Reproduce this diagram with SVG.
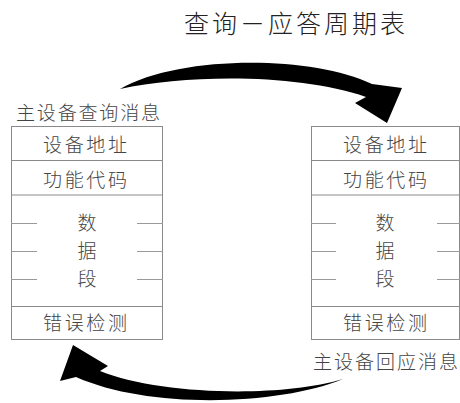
<svg xmlns="http://www.w3.org/2000/svg" width="460" height="403" viewBox="0 0 460 403">
<style>
.box{fill:#fff;stroke:#8a8a8a;stroke-width:1}
.sep{stroke:#8a8a8a;stroke-width:1}
.dash{stroke:#9a9a9a;stroke-width:1}
.t{font-family:"Noto Sans CJK SC","Noto Sans CJK JP",sans-serif;font-size:19px;fill:#444;font-weight:300}
.m{text-anchor:middle}
.title{font-family:"Noto Sans CJK SC","Noto Sans CJK JP",sans-serif;font-size:25px;fill:#222;font-weight:300}
.arrow{fill:#000}
</style>
<rect width="460" height="403" fill="#fff"/>
<text class="title" x="184" y="33" textLength="221" lengthAdjust="spacing">查询－应答周期表</text>
<g id="connectors">
<path class="arrow" d="M120,89 C180,55 310,55 372,84 L402,88 L387,123 L355,103 L366,97 C300,74 190,74 120,89 Z"/>
<path class="arrow" d="M343,379 C280,398 160,395 100,371 L108,366 L73,345 L60,381 L76,377 C150,410 280,405 343,379 Z"/>
</g>
<g id="query">
<text class="t" x="16" y="120" textLength="144" lengthAdjust="spacing">主设备查询消息</text>
<rect class="box" x="11.5" y="126.5" width="151" height="213"/>
<line class="sep" x1="11.5" y1="160.5" x2="162.5" y2="160.5"/>
<line class="sep" x1="11.5" y1="195" x2="162.5" y2="195" stroke-width="1.5"/>
<line class="sep" x1="11.5" y1="306.5" x2="162.5" y2="306.5"/>
<line class="dash" x1="11" y1="223.5" x2="37" y2="223.5"/>
<line class="dash" x1="11" y1="251.5" x2="37" y2="251.5"/>
<line class="dash" x1="11" y1="279.5" x2="37" y2="279.5"/>
<line class="dash" x1="137" y1="223.5" x2="163" y2="223.5"/>
<line class="dash" x1="137" y1="251.5" x2="163" y2="251.5"/>
<line class="dash" x1="137" y1="279.5" x2="163" y2="279.5"/>
<text class="t m" x="85" y="152" textLength="84" lengthAdjust="spacing">设备地址</text>
<text class="t m" x="85" y="187" textLength="84" lengthAdjust="spacing">功能代码</text>
<text class="t m" x="87" y="230">数</text>
<text class="t m" x="87" y="258">据</text>
<text class="t m" x="87" y="286">段</text>
<text class="t m" x="85" y="330" textLength="84" lengthAdjust="spacing">错误检测</text>
</g>
<g id="response">
<rect class="box" x="311.5" y="126.5" width="148" height="213"/>
<line class="sep" x1="311.5" y1="160.5" x2="459.5" y2="160.5"/>
<line class="sep" x1="311.5" y1="195" x2="459.5" y2="195" stroke-width="1.5"/>
<line class="sep" x1="311.5" y1="306.5" x2="459.5" y2="306.5"/>
<line class="dash" x1="311" y1="223.5" x2="336" y2="223.5"/>
<line class="dash" x1="311" y1="251.5" x2="336" y2="251.5"/>
<line class="dash" x1="311" y1="279.5" x2="336" y2="279.5"/>
<line class="dash" x1="437" y1="223.5" x2="460" y2="223.5"/>
<line class="dash" x1="437" y1="251.5" x2="460" y2="251.5"/>
<line class="dash" x1="437" y1="279.5" x2="460" y2="279.5"/>
<text class="t m" x="385" y="152" textLength="84" lengthAdjust="spacing">设备地址</text>
<text class="t m" x="385" y="187" textLength="84" lengthAdjust="spacing">功能代码</text>
<text class="t m" x="385" y="230">数</text>
<text class="t m" x="385" y="258">据</text>
<text class="t m" x="385" y="286">段</text>
<text class="t m" x="385" y="330" textLength="84" lengthAdjust="spacing">错误检测</text>
<text class="t" x="313" y="369" textLength="145" lengthAdjust="spacing">主设备回应消息</text>
</g>
</svg>
